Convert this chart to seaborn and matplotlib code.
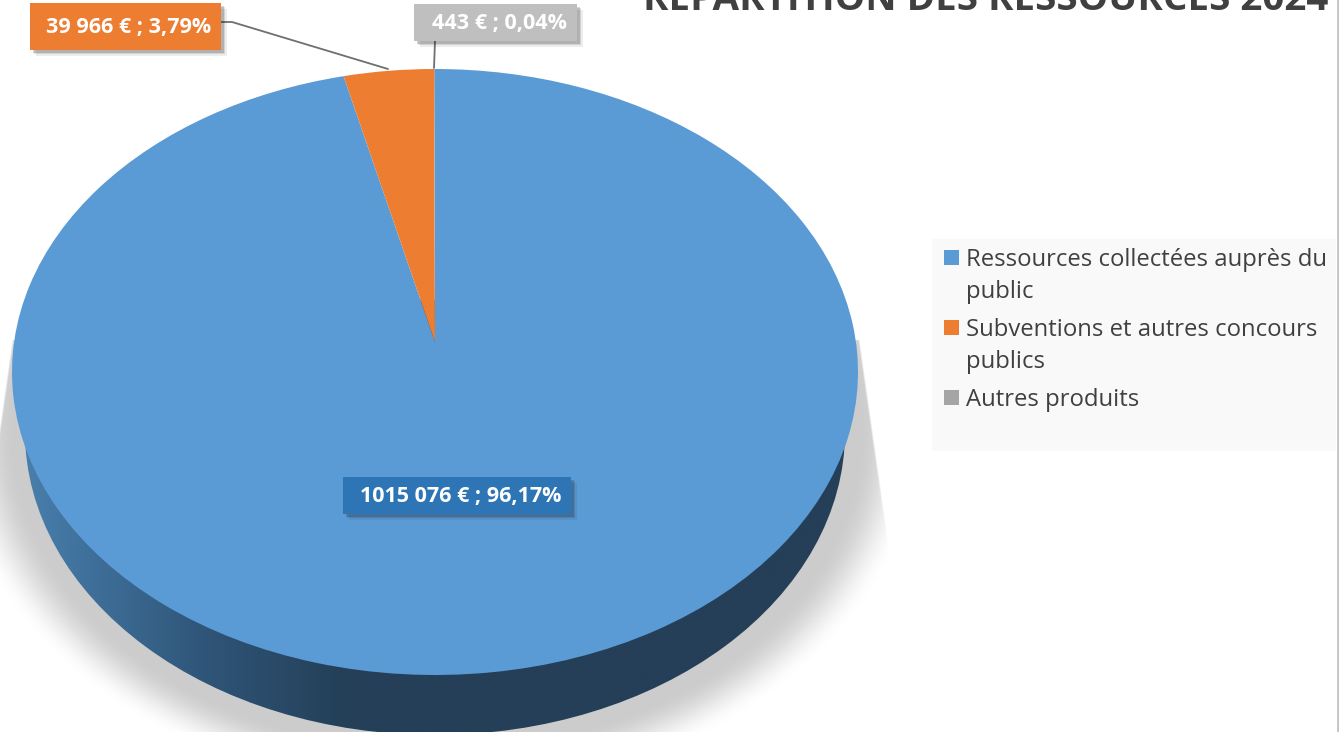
"""
Repartition des ressources 2024: tilted 3D-look pie with callout labels.
"""

import numpy as np
import matplotlib
matplotlib.use('Agg')
import matplotlib.pyplot as plt
import matplotlib.patheffects as pe
import seaborn as sns
from matplotlib.colors import LinearSegmentedColormap
from matplotlib.legend_handler import HandlerPatch
from matplotlib.patches import Ellipse, PathPatch, Patch, Rectangle
from matplotlib.path import Path

categories = ['Ressources collectées auprès du\npublic',
              'Subventions et autres concours\npublics',
              'Autres produits']
values = [1015076, 39966, 443]
labels = ['1015 076 € ; 96,17%', '39 966 € ; 3,79%', '443 € ; 0,04%']
slice_colors = ['#5b9bd5', '#ed7d31', '#a5a5a5']
box_colors = ['#2e75b6', '#ed7d31', '#bfbfbf']
title = 'REPARTITION DES RESSOURCES 2024'

W, H = 1339, 732

sns.set_theme(style='white')
plt.rcParams['font.family'] = ['Open Sans', 'DejaVu Sans']
palette = sns.color_palette(slice_colors)

fig = plt.figure(figsize=(W / 100, H / 100), dpi=100, facecolor='white')
ax = fig.add_axes([0, 0, 1, 1])

# Pie geometry, in pixels
cx, cy, rx, ry = 435, 372, 423, 303
persp = 0.099  # far half of the disc looks compressed

# ── Soft ground shadow ──────────────────────────────────────────────────
X, Y = np.meshgrid(np.arange(W) + 0.5, np.arange(H) + 0.5)
d = np.sqrt(((X - 437) / 485) ** 2 + ((Y - 430) / 365) ** 2)
a = np.clip((1 - d) / 0.13, 0, 1)
a = a * a * (3 - 2 * a)
spread = np.clip(Y - 340, 0, None) * 27 / 190
a *= np.clip((860 + spread - X) / 2, 0, 1) * np.clip((X - 12 + spread) / 2, 0, 1)
a *= Y > 340
shadow = np.zeros((H, W, 4))
shadow[..., :3] = 0.80
shadow[..., 3] = a
ax.imshow(shadow, extent=(0, W, H, 0), aspect='auto', zorder=1)

# ── Side wall ───────────────────────────────────────────────────────────
wall_cmap = LinearSegmentedColormap.from_list(
    'wall', [(0, '#4a80ad'), (0.2, '#3d6d97'), (0.45, '#2f5578'),
             (0.8, '#243f57'), (1, '#243f57')])
grad = np.linspace(0, 1, 256)[None, :]
wall = ax.imshow(grad, extent=(20, 430, 740, 300), aspect='auto', cmap=wall_cmap, zorder=2)
wall.set_clip_path(Ellipse((435, 432), 820, 606, transform=ax.transData))
wall_right = ax.imshow(grad * 0 + 1, extent=(430, 860, 740, 300), aspect='auto',
                       cmap=wall_cmap, vmin=0, vmax=1, zorder=2)
wall_right.set_clip_path(Ellipse((435, 432), 820, 606, transform=ax.transData))

# ── Pie top: wedges are laid out by pie, then tilted into perspective ───
wedges, _ = ax.pie(values, colors=palette, startangle=90, counterclock=False,
                   center=(cx, cy), radius=rx)
ax.set_aspect('auto')
for w in wedges:
    path = w.get_patch_transform().transform_path(w.get_path())
    u = (path.vertices[:, 0] - cx) / rx
    v = (path.vertices[:, 1] - cy) / rx
    den = 1 + persp * v
    xp = cx + rx * u * np.sqrt(1 - persp ** 2) / den
    yp = cy - ry * (v + persp) / den
    ax.add_patch(PathPatch(Path(np.column_stack([xp, yp]), path.codes),
                           facecolor=w.get_facecolor(), edgecolor='none', zorder=3))
    w.set_visible(False)

# ── Leader lines ────────────────────────────────────────────────────────
ax.plot([221, 232, 388], [22, 22, 69], color='#6f6f6f', lw=1.3, zorder=4)
ax.plot([435, 434], [41, 68], color='#6f6f6f', lw=1.3, zorder=4)

# ── Callouts ────────────────────────────────────────────────────────────
box_xy = [(343, 477, 228, 37), (30, 3, 191, 47), (414, 4, 163, 37)]
for (x0, y0, bw, bh), txt, col in zip(box_xy, labels, box_colors):
    ax.add_patch(Rectangle((x0, y0), bw, bh, facecolor=col, edgecolor='none', zorder=6,
                           path_effects=[
                               pe.SimplePatchShadow(offset=(4, -4), shadow_rgbFace='k', alpha=0.08),
                               pe.SimplePatchShadow(offset=(3, -3), shadow_rgbFace='k', alpha=0.12),
                               pe.SimplePatchShadow(offset=(2, -2), shadow_rgbFace='k', alpha=0.18),
                               pe.Normal()]))
    ax.text(x0 + bw / 2 + 3.5, y0 + bh / 2 + 1, txt, color='white', fontsize=15.5, fontweight='bold',
            ha='center', va='center', zorder=7)

# ── Title (cut by the top of the picture) ───────────────────────────────
ax.text(1328, 10, title, color='#404040', fontsize=27.7, fontweight='bold',
        ha='right', va='baseline', zorder=7)

# ── Legend ──────────────────────────────────────────────────────────────
ax.add_patch(Rectangle((932, 239), 404, 212, facecolor='#f9f9f9', edgecolor='none', zorder=4))


def first_line_square(legend, orig_handle, xdescent, ydescent, width, height, fontsize):
    # keep the square beside the first line of a wrapped label
    y = height + 2.5 if '\n' in orig_handle.get_label() else 0.5
    return Rectangle((0, y), 15 / 1.39, 15 / 1.39)


handles = [Patch(facecolor=c, edgecolor='none', label=lab) for c, lab in zip(palette, categories)]
leg = ax.legend(handles=handles, loc='upper left', bbox_to_anchor=(944 / W, 1 - 248 / H),
                borderaxespad=0, borderpad=0, fontsize=17.2, frameon=False, labelcolor='#404040',
                handlelength=0.68, handletextpad=0.26, labelspacing=0.6,
                handler_map={Patch: HandlerPatch(patch_func=first_line_square)})
leg.set_zorder(5)
for t in leg.get_texts():
    t.set_linespacing(1.43)

# Right border of the screenshot
ax.axvline(1337.5, color='#c4c4c4', lw=2, zorder=8)

ax.set_xlim(0, W)
ax.set_ylim(H, 0)
ax.axis('off')

fig.savefig('out.png', dpi=100)
plt.close(fig)
